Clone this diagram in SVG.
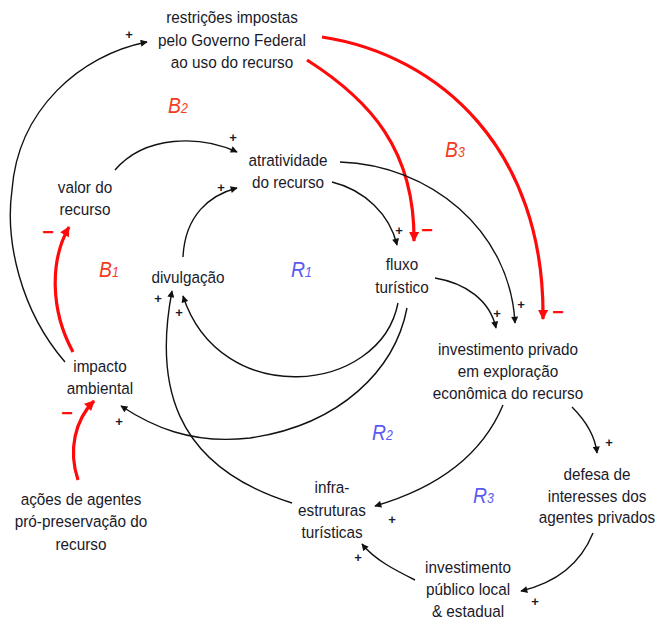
<svg xmlns="http://www.w3.org/2000/svg" width="659" height="622" viewBox="0 0 659 622">
<style>
.n{font-family:"Liberation Sans",Arial,sans-serif;font-size:17px;fill:#1a1a2a;text-anchor:middle}
.p{font-family:"Liberation Sans",Arial,sans-serif;font-size:13px;font-weight:bold;fill:#1a1a2a;text-anchor:middle}
.m{font-family:"Liberation Sans",Arial,sans-serif;font-size:20px;font-weight:bold;fill:#ff1010;text-anchor:middle}
.b{font-family:"Liberation Sans",Arial,sans-serif;font-size:22px;font-style:italic;fill:#f23c1e}
.r{font-family:"Liberation Sans",Arial,sans-serif;font-size:22px;font-style:italic;fill:#5a5af2}
.s{font-size:14px}
.k{fill:none;stroke:#111;stroke-width:1.4}
.red{fill:none;stroke:#ff0a0a;stroke-width:3.2}
</style>
<defs>
<marker id="ak" viewBox="0 0 10 10" refX="9" refY="5" markerWidth="8" markerHeight="7" orient="auto" markerUnits="userSpaceOnUse"><path d="M0,0 L10,5 L0,10 z" fill="#111"/></marker>
<marker id="ar" viewBox="0 0 10 10" refX="9" refY="5" markerWidth="11" markerHeight="10" orient="auto" markerUnits="userSpaceOnUse"><path d="M0,0 L10,5 L0,10 z" fill="#ff0a0a"/></marker>
</defs>
<rect width="659" height="622" fill="#fff"/>
<g id="connectors">
<path class="k" marker-end="url(#ak)" d="M65,362 C20,310 5,240 12,190 C18,110 80,55 147,42"/>
<path class="red" marker-end="url(#ar)" d="M307,60 C370,100 415,150 414,241"/>
<path class="red" marker-end="url(#ar)" d="M322,37 C440,55 545,150 543,319"/>
<path class="k" marker-end="url(#ak)" d="M115,170 C145,135 200,135 237,152"/>
<path class="k" marker-end="url(#ak)" d="M183,257 C185,215 210,195 237,188"/>
<path class="k" marker-end="url(#ak)" d="M332,182 C365,190 390,215 397,245"/>
<path class="k" marker-end="url(#ak)" d="M340,162 C430,165 510,230 515,323"/>
<path class="k" marker-end="url(#ak)" d="M435,278 C465,283 490,300 496,328"/>
<path class="k" marker-end="url(#ak)" d="M398,303 C380,395 220,410 183,296"/>
<path class="k" marker-end="url(#ak)" d="M407,308 C395,370 340,425 250,438 C190,445 150,425 121,406"/>
<path class="k" marker-end="url(#ak)" d="M292,503 C170,465 155,380 172,291"/>
<path class="k" marker-end="url(#ak)" d="M503,405 C480,460 430,490 375,506"/>
<path class="k" marker-end="url(#ak)" d="M572,407 C585,420 595,435 597,453"/>
<path class="k" marker-end="url(#ak)" d="M593,533 C580,565 555,583 521,591"/>
<path class="k" marker-end="url(#ak)" d="M415,580 C395,570 375,560 362,544"/>
<path class="red" marker-end="url(#ar)" d="M78,480 C68,450 75,420 94,401"/>
<path class="red" marker-end="url(#ar)" d="M73,352 C50,310 50,260 69,227"/>
<g id="polarities">
<text class="p" x="129" y="39">+</text>
<text class="p" x="233" y="142">+</text>
<text class="p" x="221" y="192">+</text>
<text class="p" x="399" y="235">+</text>
<text class="p" x="521" y="309">+</text>
<text class="p" x="497" y="318">+</text>
<text class="p" x="158" y="303">+</text>
<text class="p" x="179" y="317">+</text>
<text class="p" x="119" y="426">+</text>
<text class="p" x="392" y="524">+</text>
<text class="p" x="358" y="562">+</text>
<text class="p" x="609" y="447">+</text>
<text class="p" x="535" y="606">+</text>
<text class="m" x="48" y="239">−</text>
<text class="m" x="67" y="420">−</text>
<text class="m" x="427" y="237">−</text>
<text class="m" x="558" y="319">−</text>
</g>
</g>
<g id="loops">
<text class="b" transform="translate(168 113) scale(.88 1)">B<tspan class="s">2</tspan></text>
<text class="b" transform="translate(445 157) scale(.88 1)">B<tspan class="s">3</tspan></text>
<text class="b" transform="translate(99 277) scale(.88 1)">B<tspan class="s">1</tspan></text>
<text class="r" transform="translate(291 277) scale(.88 1)">R<tspan class="s">1</tspan></text>
<text class="r" transform="translate(372 440) scale(.88 1)">R<tspan class="s">2</tspan></text>
<text class="r" transform="translate(473 503) scale(.88 1)">R<tspan class="s">3</tspan></text>
</g>
<g id="restricoes"><text class="n" transform="translate(232 23) scale(.9 1)">restrições impostas</text><text class="n" transform="translate(232 46) scale(.9 1)">pelo Governo Federal</text><text class="n" transform="translate(232 68) scale(.9 1)">ao uso do recurso</text></g>
<g id="atratividade"><text class="n" transform="translate(288 166) scale(.9 1)">atratividade</text><text class="n" transform="translate(288 188) scale(.9 1)">do recurso</text></g>
<g id="valor"><text class="n" transform="translate(85 193) scale(.9 1)">valor do</text><text class="n" transform="translate(85 215) scale(.9 1)">recurso</text></g>
<g id="divulgacao"><text class="n" transform="translate(188 283) scale(.9 1)">divulgação</text></g>
<g id="fluxo"><text class="n" transform="translate(402 270) scale(.9 1)">fluxo</text><text class="n" transform="translate(402 293) scale(.9 1)">turístico</text></g>
<g id="investimento-privado"><text class="n" transform="translate(508 355) scale(.9 1)">investimento privado</text><text class="n" transform="translate(508 377) scale(.9 1)">em exploração</text><text class="n" transform="translate(508 399) scale(.9 1)">econômica do recurso</text></g>
<g id="impacto"><text class="n" transform="translate(100 372) scale(.9 1)">impacto</text><text class="n" transform="translate(100 394) scale(.9 1)">ambiental</text></g>
<g id="acoes"><text class="n" transform="translate(81 505) scale(.9 1)">ações de agentes</text><text class="n" transform="translate(81 527) scale(.9 1)">pró-preservação do</text><text class="n" transform="translate(81 550) scale(.9 1)">recurso</text></g>
<g id="infra"><text class="n" transform="translate(332 493) scale(.9 1)">infra-</text><text class="n" transform="translate(332 516) scale(.9 1)">estruturas</text><text class="n" transform="translate(332 538) scale(.9 1)">turísticas</text></g>
<g id="defesa"><text class="n" transform="translate(597 480) scale(.9 1)">defesa de</text><text class="n" transform="translate(597 502) scale(.9 1)">interesses dos</text><text class="n" transform="translate(597 523) scale(.9 1)">agentes privados</text></g>
<g id="investimento-publico"><text class="n" transform="translate(468 573) scale(.9 1)">investimento</text><text class="n" transform="translate(468 595) scale(.9 1)">público local</text><text class="n" transform="translate(468 617) scale(.9 1)">&amp; estadual</text></g>
</svg>
